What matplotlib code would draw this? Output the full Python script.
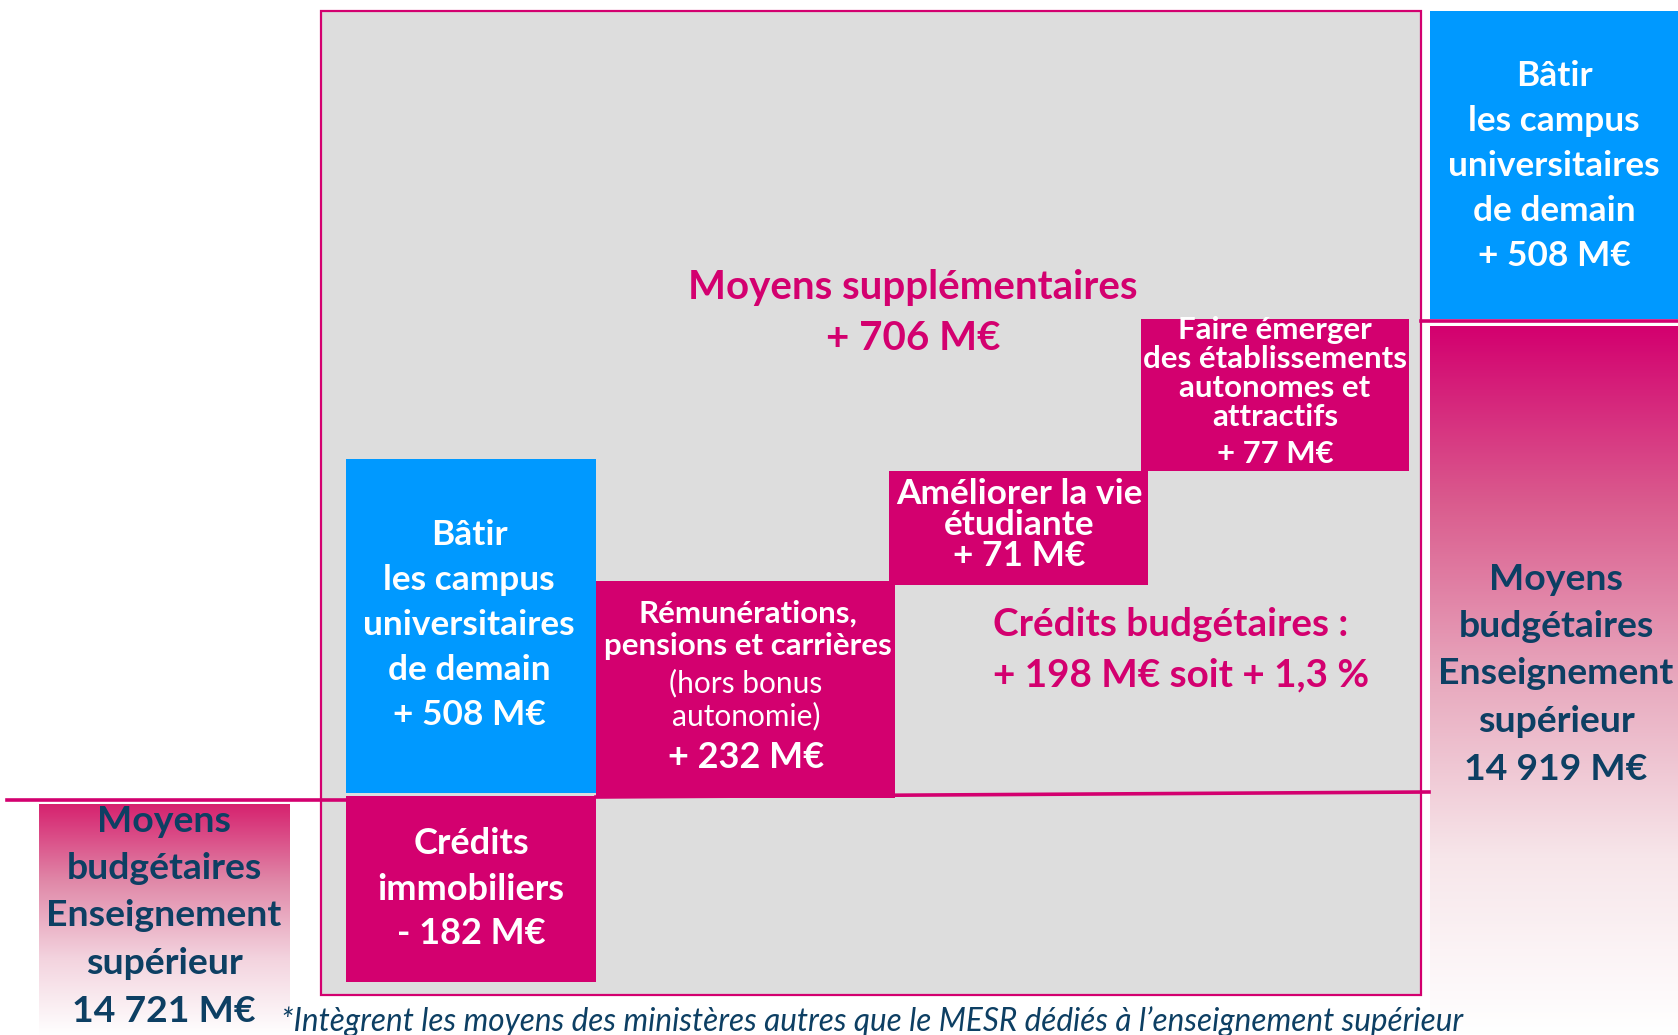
import numpy as np
import matplotlib.pyplot as plt
from matplotlib.colors import LinearSegmentedColormap

plt.rcParams['font.family'] = ['Lato', 'DejaVu Sans']

# --- data ---
base_start = 14721
base_end = 14919
step_values = [-182, 508, 232, 71, 77]
step_titles = [
    ['Crédits', 'immobiliers'],
    ['Bâtir', 'les campus', 'universitaires', 'de demain'],
    ['Rémunérations,', 'pensions et carrières'],
    ['Améliorer la vie', 'étudiante'],
    ['Faire émerger', 'des établissements', 'autonomes et', 'attractifs'],
]
extra_total = 706
budget_delta = 198
budget_pct = '1,3'
base_title = ['Moyens', 'budgétaires', 'Enseignement', 'supérieur']
footnote = '*Intègrent les moyens des ministères autres que le MESR dédiés à l’enseignement supérieur'

# --- styles / layout (reference pixel space) ---
PINK = '#D3006F'
BLUE = '#0099FF'
GREY = '#DDDDDD'
NAVY = '#0D3F63'

# x0, x1, y_top, y_bottom
step_boxes = [
    (346, 596, 796, 982),
    (346, 596, 459, 793),
    (596, 895, 581, 798),
    (889, 1148, 471, 585),
    (1141, 1409, 319, 471),
]
step_colors = [PINK, BLUE, PINK, PINK, PINK]


def fmt(v, sign=False):
    s = f'{abs(v):,}'.replace(',', ' ') + ' M€'
    if sign:
        s = ('+ ' if v >= 0 else '- ') + s
    return s


def stack(ax, x, y0, dy, lines, size, color, weight='bold', style='normal', ha='center'):
    for i, ln in enumerate(lines):
        ax.text(x, y0 + i * dy, ln, ha=ha, va='center', fontsize=size,
                color=color, fontweight=weight, fontstyle=style)


fig = plt.figure(figsize=(16.78, 10.35), dpi=100)
ax = fig.add_axes([0, 0, 1, 1])
ax.set_xlim(0, 1678)
ax.set_ylim(1035, 0)
ax.axis('off')

# grey frame
ax.bar(321, 995 - 11, width=1421 - 321, bottom=11, align='edge',
       color=GREY, edgecolor=PINK, linewidth=1.6, zorder=1)

# gradient boxes
grad = LinearSegmentedColormap.from_list('g', ['#D3006F', '#DA5C8E', '#E8A9BE', '#F7E6EA', '#FFFFFF'])
g = np.linspace(0, 1, 256).reshape(-1, 1)
ax.imshow(g, cmap=grad, extent=(1430, 1678, 1035, 326), aspect='auto', zorder=1)
grad_l = LinearSegmentedColormap.from_list('gl', ['#D6226F', '#E088A8', '#F3D3DE', '#FFFFFF'])
ax.imshow(g, cmap=grad_l, extent=(39, 290, 1035, 804), aspect='auto', zorder=1)

# right blue box
ax.bar(1430, 319 - 11, width=1678 - 1430, bottom=11, align='edge', color=BLUE, zorder=2)

# step boxes
for (x0, x1, yt, yb), c in zip(step_boxes, step_colors):
    ax.bar(x0, yb - yt, width=x1 - x0, bottom=yt, align='edge', color=c, zorder=3)

# pink base lines
ax.plot([7, 346], [800, 800], color=PINK, lw=2.6, zorder=4)
ax.plot([596, 1429], [797, 792], color=PINK, lw=2.6, zorder=4)
ax.plot([1421, 1678], [321, 321], color=PINK, lw=2.6, zorder=4)

# texts inside boxes
stack(ax, 471, 844, 45, step_titles[0] + [fmt(step_values[0], True)], 26, 'white')
stack(ax, 469, 535, 45, step_titles[1] + [fmt(step_values[1], True)], 25.4, 'white')
stack(ax, 748, 614, 32, step_titles[2], 22.5, 'white')
stack(ax, 746, 683, 33, ['(hors bonus', 'autonomie)'], 21.5, 'white', weight='normal')
stack(ax, 746, 757, 0, [fmt(step_values[2], True)], 26, 'white')
stack(ax, 1019, 494, 31, step_titles[3] + [fmt(step_values[3], True)], 25.4, 'white')
stack(ax, 1275, 330, 29, step_titles[4], 22.5, 'white')
stack(ax, 1275, 454, 0, [fmt(step_values[4], True)], 22.4, 'white')

# right blue box
stack(ax, 1554, 76, 45, step_titles[1] + [fmt(step_values[1], True)], 25.4, 'white')

# totals
stack(ax, 164, 821, 47.5, base_title + [fmt(base_start)], 26.9, NAVY)
stack(ax, 1556, 579, 47.5, base_title + [fmt(base_end)], 26.9, NAVY)

# annotations
stack(ax, 913, 287, 51, ['Moyens supplémentaires', fmt(extra_total, True)], 29, PINK)
stack(ax, 993, 624, 51, ['Crédits budgétaires :',
                         f'{fmt(budget_delta, True)} soit + {budget_pct} %'], 27.8, PINK, ha='left')

ax.text(281, 1022, footnote, ha='left', va='center', fontsize=22.7,
        color=NAVY, fontstyle='italic')

fig.savefig('out.png', dpi=100)
